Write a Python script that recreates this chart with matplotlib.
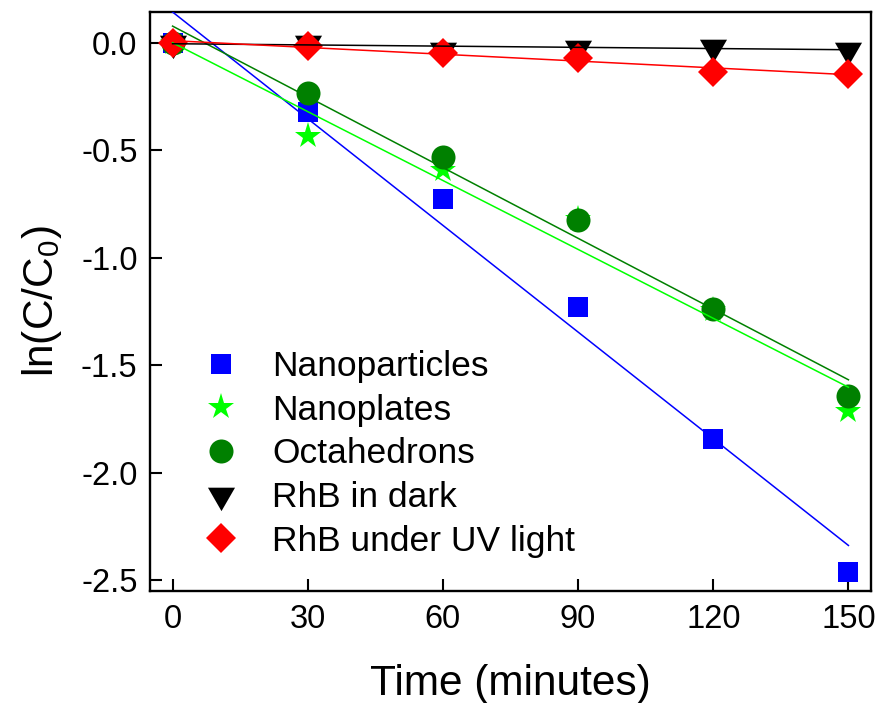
import numpy as np
import matplotlib
matplotlib.use("Agg")
import matplotlib.pyplot as plt
from matplotlib.path import Path

plt.rcParams['font.family'] = ['Liberation Sans', 'DejaVu Sans']
plt.rcParams['mathtext.fontset'] = 'custom'
plt.rcParams['mathtext.rm'] = 'Liberation Sans'
plt.rcParams['mathtext.it'] = 'Liberation Sans:italic'

# irradiation time (min) and ln(C/C0) for each sample
time_min = [0, 30, 60, 90, 120, 150]
nanoparticles = [0.0, -0.32, -0.726, -1.23, -1.845, -2.463]
nanoplates = [0.0, -0.434, -0.589, -0.82, -1.245, -1.714]
octahedrons = [0.0, -0.231, -0.529, -0.824, -1.240, -1.642]
rhb_dark = [0.0, 0.0, -0.03, -0.022, -0.018, -0.03]
rhb_uv = [0.0, -0.012, -0.047, -0.068, -0.135, -0.144]

labels = ['Nanoparticles', 'Nanoplates', 'Octahedrons', 'RhB in dark', 'RhB under UV light']
colors = ['#0000ff', '#00ff00', '#008000', '#000000', '#ff0000']

# down triangle centred on its centroid
h = np.sqrt(3) / 2
tri_down = Path([(-0.5, h / 3), (0.5, h / 3), (0, -2 * h / 3), (-0.5, h / 3)],
                [Path.MOVETO, Path.LINETO, Path.LINETO, Path.CLOSEPOLY])

markers = ['s', '*', 'o', tri_down, 'D']
sizes = [15, 20, 17.3, 22.5, 14.8]
series = [nanoparticles, nanoplates, octahedrons, rhb_dark, rhb_uv]

fig = plt.figure(figsize=(8.82, 7.03), dpi=100)
ax = fig.add_axes([0.1701, 0.1593, 0.8174, 0.8236])

x = np.array(time_min, dtype=float)
for y, lab, c, m, s in zip(series, labels, colors, markers, sizes):
    ax.plot(x, y, linestyle='none', marker=m, markersize=s, color=c,
            markeredgewidth=0, label=lab, zorder=2)

# linear fits drawn over the points
xfit = np.array([0, 150], dtype=float)
for y, c in zip(series, colors):
    k, b = np.polyfit(x, y, 1)
    ax.plot(xfit, k * xfit + b, color=c, linewidth=1.1, zorder=3)

ax.set_xlim(-5, 155)
ax.set_ylim(-2.552, 0.145)
ax.set_xticks([0, 30, 60, 90, 120, 150])
ax.set_yticks([0.0, -0.5, -1.0, -1.5, -2.0, -2.5])
ax.set_yticklabels(['0.0', '-0.5', '-1.0', '-1.5', '-2.0', '-2.5'])

for sp in ax.spines.values():
    sp.set_linewidth(1.7)
ax.tick_params(direction='in', length=8.5, width=1.5, labelsize=23.5, pad=9)

ax.set_xlabel('Time (minutes)', fontsize=30.5, labelpad=21)
ax.set_ylabel('ln(C/C$_0$)', fontsize=30.5, labelpad=12)

ax.legend(loc='center left', bbox_to_anchor=(0.074, 0.237), frameon=False,
          fontsize=25.5, handlelength=1.0, handletextpad=0.94,
          labelspacing=0.3, borderpad=0, borderaxespad=0)

fig.savefig('out.png', dpi=100)
